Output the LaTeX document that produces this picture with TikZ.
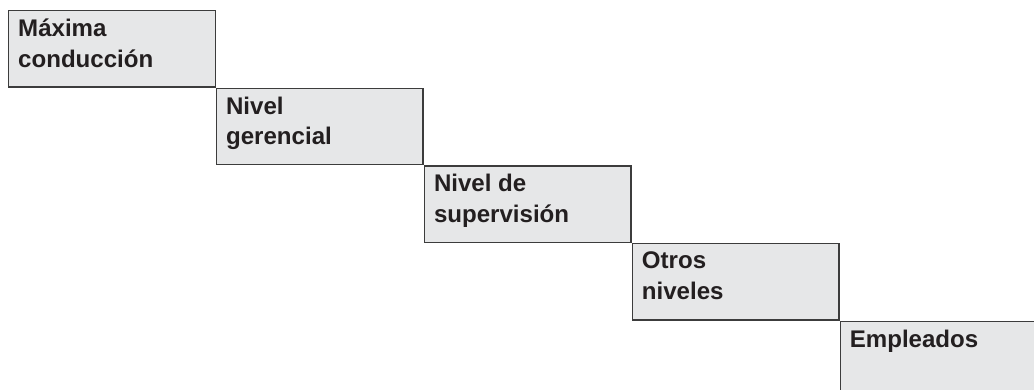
\documentclass[tikz,border=0pt]{standalone}
\usepackage{fontspec}
\setmainfont{Liberation Sans}
\usepackage{tikz}
\definecolor{boxgray}{HTML}{E6E7E8}
\definecolor{edgegray}{HTML}{3C3C3C}
\definecolor{inkblack}{HTML}{231F20}
\newcommand{\lvltext}[1]{\parbox[t][1.185cm][t]{3.75cm}{#1}}

\begin{document}
\begin{tikzpicture}[
    lvl/.style={draw=edgegray, fill=boxgray, line width=0.8pt, anchor=north west,
      minimum width=4.125cm, minimum height=1.525cm, inner xsep=0.19cm, inner ysep=0.17cm,
      text=inkblack, font=\fontsize{13.7}{17.2}\selectfont\bfseries}]
  \useasboundingbox (0,0) rectangle (20.68,-7.8);

  \node[lvl] (conduccion) at (0.16,-0.2) {\lvltext{Máxima\\conducción}};
  \node[lvl] (gerencial) at (conduccion.south east) {\lvltext{Nivel\\gerencial}};
  \node[lvl] (supervision) at (gerencial.south east) {\lvltext{Nivel de\\supervisión}};
  \node[lvl] (otros) at (supervision.south east) {\lvltext{Otros\\niveles}};
  \node[lvl] (empleados) at (otros.south east) {\lvltext{Empleados}};
\end{tikzpicture}
\end{document}
